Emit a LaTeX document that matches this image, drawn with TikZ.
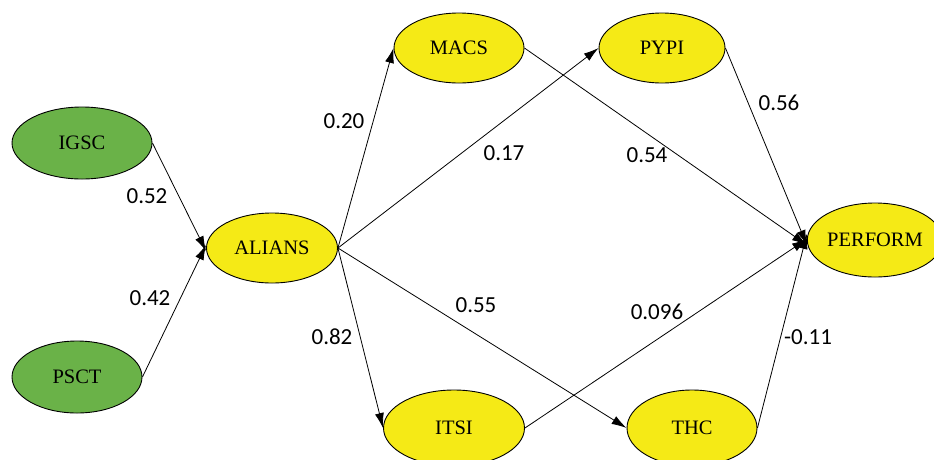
\documentclass[tikz,border=0pt]{standalone}
\usepackage{fontspec}
\setmainfont{Liberation Serif}
\newfontfamily\labfont{Carlito}
\usetikzlibrary{shapes.geometric,arrows.meta}
\definecolor{nodegreen}{RGB}{106,178,72}
\definecolor{nodeyellow}{RGB}{245,234,22}
\tikzset{
  latent/.style={ellipse, draw=black, line width=0.9pt, inner sep=0pt, font=\fontsize{20.5}{22}\selectfont},
  gnode/.style={latent, fill=nodegreen},
  ynode/.style={latent, fill=nodeyellow},
  path/.style={draw=black, line width=0.8pt, -{Latex[length=15pt,width=9pt]}},
  coef/.style={font=\labfont\fontsize{23}{25}\selectfont, inner sep=0pt}
}
\begin{document}
\begin{tikzpicture}[x=1pt,y=-1pt]
\useasboundingbox (0,0) rectangle (934,459);
\node[gnode, minimum width=140pt, minimum height=72pt] (igsc) at (82,143) {IGSC};
\node[gnode, minimum width=130pt, minimum height=72pt] (psct) at (77,377) {PSCT};
\node[ynode, minimum width=131pt, minimum height=70pt] (alians) at (272,248) {ALIANS};
\node[ynode, minimum width=130pt, minimum height=70pt] (macs) at (459,48) {MACS};
\node[ynode, minimum width=126pt, minimum height=70pt] (pypi) at (662,48) {PYPI};
\node[ynode, minimum width=124pt, minimum height=74pt] (perform) at (875,240) {PERFORM};
\node[ynode, minimum width=141pt, minimum height=76pt] (itsi) at (454,428) {ITSI};
\node[ynode, minimum width=130pt, minimum height=76pt] (thc) at (692,428) {THC};

\draw[path] (igsc.east) -- ([yshift=-3pt]alians.west);
\draw[path] (psct.east) -- ([yshift=3pt]alians.west);
\draw[path] (alians.east) -- (macs.west);
\draw[path] (alians.east) -- (pypi.west);
\draw[path] (alians.east) -- (itsi.west);
\draw[path] (alians.east) -- (thc.west);
\draw[path] (macs.east) -- ([yshift=-5pt]perform.west);
\draw[path] (pypi.east) -- ([yshift=-5pt]perform.west);
\draw[path] (itsi.east) -- ([yshift=1pt]perform.west);
\draw[path] (thc.east) -- ([yshift=6pt]perform.west);

\node[coef] (l1) at (147,196) {0.52};
\node[coef] (l2) at (150,298) {0.42};
\node[coef] (l3) at (344,121) {0.20};
\node[coef] (l4) at (504,153) {0.17};
\node[coef] (l5) at (647,155) {0.54};
\node[coef] (l6) at (779,103) {0.56};
\node[coef] (l7) at (476,305) {0.55};
\node[coef] (l8) at (657,312) {0.096};
\node[coef] (l9) at (332,337) {0.82};
\node[coef] (l10) at (808,337) {-0.11};
\end{tikzpicture}
\end{document}
